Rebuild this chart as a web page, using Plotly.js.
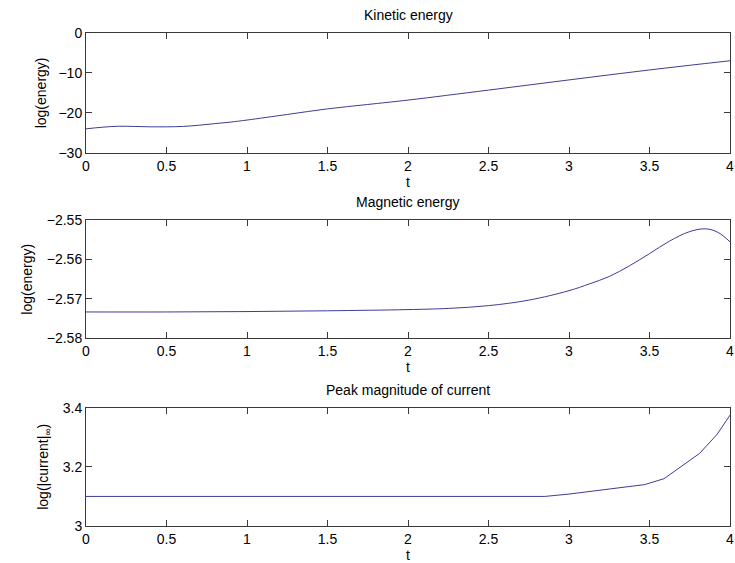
<!DOCTYPE html>
<html>
<head>
<meta charset="utf-8">
<script src="https://cdn.plot.ly/plotly-3.0.1.min.js"></script>
<style>html,body{margin:0;padding:0;background:#fff;}#plot{width:735px;height:563px;}</style>
</head>
<body>
<div id="plot"></div>
<script>
// Kinetic energy
const tKin = [0, 0.1, 0.2, 0.3, 0.4, 0.5, 0.6, 0.7, 0.8, 0.9, 1.0, 1.25, 1.5, 1.75, 2.0, 2.5, 3.0, 3.5, 4.0];
const logKin = [-24.0, -23.6, -23.35, -23.4, -23.5, -23.5, -23.4, -23.1, -22.7, -22.3, -21.8, -20.4, -19.0, -17.9, -16.8, -14.3, -11.75, -9.25, -6.95];

// Magnetic energy
const tMag = [0, 0.5, 1.0, 1.5, 2.0, 2.25, 2.5, 2.75, 3.0, 3.125, 3.25, 3.375, 3.5, 3.625, 3.75, 3.85, 3.925, 4.0];
const logMag = [-2.5733, -2.5733, -2.5732, -2.5730, -2.5727, -2.5724, -2.5717, -2.5703, -2.5679, -2.5662, -2.5643, -2.5616, -2.5585, -2.5553, -2.5529, -2.5522, -2.5531, -2.5555];

// Peak magnitude of current
const tCur = [0, 2.85, 3.0, 3.47, 3.59, 3.81, 3.92, 4.0];
const logCur = [3.1, 3.1, 3.108, 3.14, 3.16, 3.245, 3.31, 3.375];

// Tick labels
const xTickVals = [0, 0.5, 1, 1.5, 2, 2.5, 3, 3.5, 4];
const xTickText = ['0', '0.5', '1', '1.5', '2', '2.5', '3', '3.5', '4'];
const y1TickVals = [-30, -20, -10, 0];
const y1TickText = ['\u221230', '\u221220', '\u221210', '0'];
const y2TickVals = [-2.58, -2.57, -2.56, -2.55];
const y2TickText = ['\u22122.58', '\u22122.57', '\u22122.56', '\u22122.55'];
const y3TickVals = [3, 3.2, 3.4];
const y3TickText = ['3', '3.2', '3.4'];

const titles = ['Kinetic energy', 'Magnetic energy', 'Peak magnitude of current'];

const lineColor = '#3d3d94';
const axisColor = '#3a3a3a';
const font = {family: '"Liberation Sans", Arial, Helvetica, sans-serif', size: 14, color: '#000'};

const traces = [
  {x: tKin, y: logKin, xaxis: 'x', yaxis: 'y', mode: 'lines', line: {color: lineColor, width: 1, shape: 'spline', smoothing: 1}, hoverinfo: 'skip'},
  {x: tMag, y: logMag, xaxis: 'x2', yaxis: 'y2', mode: 'lines', line: {color: lineColor, width: 1, shape: 'spline', smoothing: 1}, hoverinfo: 'skip'},
  {x: tCur, y: logCur, xaxis: 'x3', yaxis: 'y3', mode: 'lines', line: {color: lineColor, width: 1}, hoverinfo: 'skip'}
];

function xax(anchor) {
  return {
    anchor: anchor, domain: [0, 1], range: [0, 4], tickvals: xTickVals, ticktext: xTickText,
    ticks: 'inside', ticklen: 6, tickcolor: axisColor, showline: true, linecolor: axisColor, linewidth: 1,
    mirror: 'ticks', showgrid: false, zeroline: false, tickfont: font,
    title: {text: 't', font: font, standoff: 2}
  };
}
function yax(anchor, dom, range, vals, text, title, standoff) {
  return {
    anchor: anchor, domain: dom, range: range, tickvals: vals, ticktext: text,
    ticks: 'inside', ticklen: 6, tickcolor: axisColor, showline: true, linecolor: axisColor, linewidth: 1,
    mirror: 'ticks', showgrid: false, zeroline: false, tickfont: font,
    title: {text: title, font: font, standoff: standoff}
  };
}

const d1 = [0.757, 1.0];
const d2 = [0.3806, 0.6204];
const d3 = [0.0, 0.2399];

const layout = {
  width: 735, height: 563,
  margin: {l: 85.5, r: 5, t: 32.5, b: 37},
  paper_bgcolor: '#fff', plot_bgcolor: '#fff',
  showlegend: false,
  font: font,
  xaxis: xax('y'),
  yaxis: yax('x', d1, [-30, 0], y1TickVals, y1TickText, 'log(energy)', 8),
  xaxis2: xax('y2'),
  yaxis2: yax('x2', d2, [-2.58, -2.55], y2TickVals, y2TickText, 'log(energy)', 10),
  xaxis3: xax('y3'),
  yaxis3: yax('x3', d3, [3, 3.4], y3TickVals, y3TickText, 'log(|current|<sub>\u221e</sub>)', 10),
  annotations: titles.map((t, i) => ({
    text: t, xref: 'paper', yref: 'paper', x: 0.5, y: [d1, d2, d3][i][1],
    xanchor: 'center', yanchor: 'bottom', yshift: 8, showarrow: false, font: font
  }))
};

Plotly.newPlot('plot', traces, layout, {staticPlot: true, displayModeBar: false});
</script>
</body>
</html>
